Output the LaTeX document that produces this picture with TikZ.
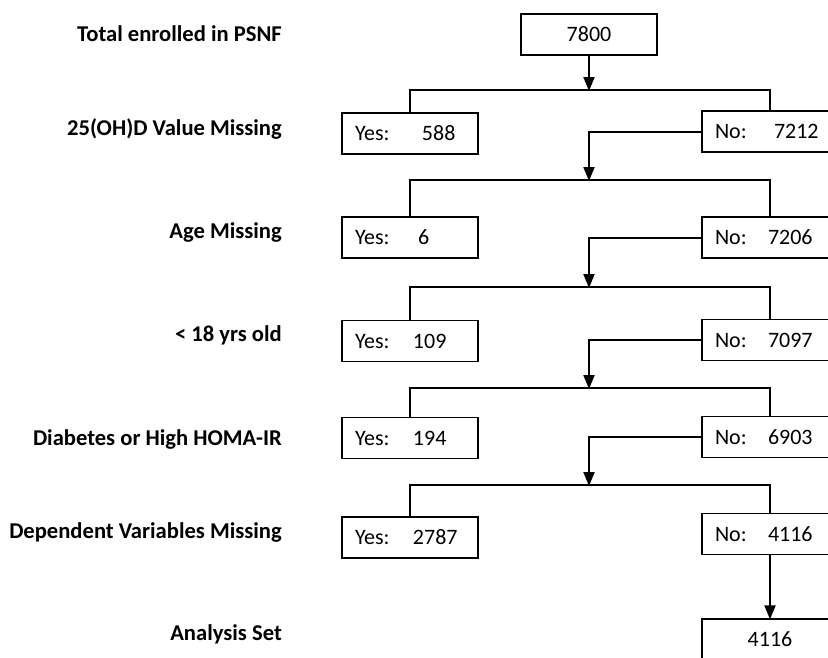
\documentclass[tikz,border=0pt]{standalone}
\usepackage{fontspec}
\setmainfont{Carlito}
\usetikzlibrary{arrows.meta}
\newcommand{\ynval}[3]{\makebox[#1][l]{#2}#3}
\begin{document}
\begin{tikzpicture}[x=1pt,y=-1pt]
            \tikzstyle{box}=[draw, line width=1.2pt, minimum width=136pt, minimum height=41pt, inner xsep=13pt, font=\fontsize{22}{26}\selectfont]
            \tikzstyle{ynbox}=[box, text width=110pt, align=left]
            \tikzstyle{steplabel}=[anchor=east, inner sep=0pt, font=\bfseries\fontsize{22.6}{26}\selectfont]
            \tikzstyle{link}=[line width=2pt]
            \tikzstyle{arr}=[link, -{Triangle[length=14pt,width=11pt]}, shorten >=-1pt]
            \useasboundingbox (0,0) rectangle (828,657);
            \clip (0,0) rectangle (828,657);
            % row labels
            \node[steplabel] (Ltotal) at (282,34) {Total enrolled in PSNF};
            \node[steplabel] (Lvit) at (282,129) {25(OH)D Value Missing};
            \node[steplabel] (Lage) at (282,232) {Age Missing};
            \node[steplabel] (Lyoung) at (282,335) {< 18 yrs old};
            \node[steplabel] (Ldiab) at (282,439) {Diabetes or High HOMA-IR};
            \node[steplabel] (Ldep) at (282,532) {Dependent Variables Missing};
            \node[steplabel] (Lset) at (282,634) {Analysis Set};
            % boxes
            \node[box] (top) at (589,34.5) {7800};
            \node[ynbox] (yes1) at (410,133.5) {\ynval{58pt}{Yes:}{\hspace{9pt}588}};
            \node[ynbox] (no1) at (770,131.5) {\ynval{53pt}{No:}{\hspace{6pt}7212}};
            \node[ynbox] (yes2) at (410,237.5) {\ynval{58pt}{Yes:}{\hspace{5pt}6}};
            \node[ynbox] (no2) at (770,237.5) {\ynval{53pt}{No:}{7206}};
            \node[ynbox] (yes3) at (410,341) {\ynval{58pt}{Yes:}{109}};
            \node[ynbox] (no3) at (770,340) {\ynval{53pt}{No:}{7097}};
            \node[ynbox] (yes4) at (410,438) {\ynval{58pt}{Yes:}{194}};
            \node[ynbox] (no4) at (770,437) {\ynval{53pt}{No:}{6903}};
            \node[ynbox] (yes5) at (410,537.5) {\ynval{58pt}{Yes:}{2787}};
            \node[ynbox] (no5) at (770,534) {\ynval{53pt}{No:}{4116}};
            \node[box] (final) at (770,639.5) {4116};
            % split points
            \coordinate (b1) at (589,90);
            \coordinate (b2) at (589,180);
            \coordinate (b3) at (589,287);
            \coordinate (b4) at (589,388);
            \coordinate (b5) at (589,485);
            % arrows
            \draw[arr] (top) -- (b1);
            \draw[arr] (no1.west) -| (b2);
            \draw[arr] (no2.west) -| (b3);
            \draw[arr] (no3.west) -| (b4);
            \draw[arr] (no4.west) -| (b5);
            \draw[arr] (no5) -- (final);
            % branches
            \foreach \i in {1,...,5} {
              \draw[link] (yes\i.north) -- (yes\i.north |- b\i) -- (no\i.north |- b\i) -- (no\i.north);
            }
\end{tikzpicture}
\end{document}
